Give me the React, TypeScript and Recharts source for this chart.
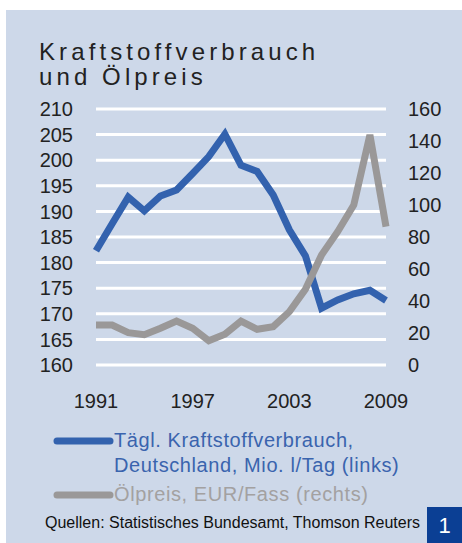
import React from 'react'
import { CartesianGrid, Line, LineChart, XAxis, YAxis } from 'recharts'

const years = [1991, 1992, 1993, 1994, 1995, 1996, 1997, 1998, 1999, 2000, 2001, 2002, 2003, 2004, 2005, 2006, 2007, 2008, 2009]
const fuelUse = [182.3, 187.6, 192.8, 190.1, 193, 194.2, 197.4, 200.7, 205.1, 199, 197.8, 193.2, 186.4, 181.3, 171.1, 172.7, 173.9, 174.6, 172.6]
const oilPrice = [25, 25, 20.2, 18.9, 23, 27.4, 23, 15.2, 19.2, 27.4, 22.3, 24, 33.3, 47.3, 68.8, 83.3, 100, 143.8, 86.5]
const leftTicks = [160, 165, 170, 175, 180, 185, 190, 195, 200, 205, 210]
const rightTicks = [0, 20, 40, 60, 80, 100, 120, 140, 160]
const yearTicks = [1991, 1997, 2003, 2009]
const titleLines = ['Kraftstoffverbrauch', 'und Ölpreis']
const seriesNames = ['Tägl. Kraftstoffverbrauch,\nDeutschland, Mio. l/Tag (links)', 'Ölpreis, EUR/Fass (rechts)']

const BLUE = '#3362ae'
const GREY = '#9a9898'
const BG = '#cdd8e9'

const data = years.map((y, i) => ({ year: y, fuel: fuelUse[i], oil: oilPrice[i] }))

const font = '"Liberation Sans", Arial, sans-serif'

const legendItems = [
  { name: seriesNames[0], color: BLUE, text: '#3a64ae' },
  { name: seriesNames[1], color: GREY, text: '#a3a1a1' },
]

export default function App() {
  const tickStyle = { fill: '#222', fontSize: 20, fontFamily: font }
  return (
    <div style={{ position: 'absolute', left: 0, top: 0, width: 462, height: 543, background: '#fff', overflow: 'hidden' }}>
      <div style={{ position: 'absolute', left: 6, top: 10, width: 456, height: 533, background: BG }} />
      {titleLines.map((t, i) => (
        <div key={t} style={{ position: 'absolute', left: 39, top: 39 + i * 25, height: 25, fontFamily: font, fontSize: 24, lineHeight: '25px', letterSpacing: 4.1, color: '#222', whiteSpace: 'nowrap' }}>
          {t}
        </div>
      ))}
      <div style={{ position: 'absolute', top: 0, left: 0 }}>
        <LineChart width={462} height={543} data={data} margin={{ top: 109, left: 0, right: 0, bottom: 148 }}>
          <CartesianGrid yAxisId="left" vertical={false} stroke="#fff" strokeWidth={3} />
          <XAxis dataKey="year" type="number" domain={[1991, 2009]} ticks={yearTicks} axisLine={false} tickLine={false} tickSize={6} tickMargin={23} height={30} tick={tickStyle} />
          <YAxis yAxisId="left" domain={[160, 210]} ticks={leftTicks} axisLine={false} tickLine={false} tickSize={6} tickMargin={17} width={96} tick={tickStyle} interval={0} />
          <YAxis yAxisId="right" orientation="right" domain={[0, 160]} ticks={rightTicks} axisLine={false} tickLine={false} tickSize={6} tickMargin={16} width={76} tick={{ ...tickStyle, textAnchor: 'start' }} interval={0} />
          <Line yAxisId="left" dataKey="fuel" name={seriesNames[0]} stroke={BLUE} strokeWidth={7} dot={false} isAnimationActive={false} />
          <Line yAxisId="right" dataKey="oil" name={seriesNames[1]} stroke={GREY} strokeWidth={7} dot={false} isAnimationActive={false} />
        </LineChart>
      </div>
      <div style={{ position: 'absolute', left: 51, top: 428, fontFamily: font }}>
        {legendItems.map((p) => (
          <div key={p.name} style={{ display: 'flex', alignItems: 'flex-start', marginBottom: 4 }}>
            <svg width={63} height={26} style={{ flex: 'none' }}>
              <line x1={6} y1={13} x2={59} y2={13} stroke={p.color} strokeWidth={7} strokeLinecap="round" />
            </svg>
            <span style={{ color: p.text, fontSize: 20, letterSpacing: 0.6, lineHeight: '25px', whiteSpace: 'pre-line' }}>
              {p.name}
            </span>
          </div>
        ))}
      </div>
      <div style={{ position: 'absolute', left: 45, top: 514, fontFamily: font, fontSize: 16, color: '#111' }}>
        Quellen: Statistisches Bundesamt, Thomson Reuters
      </div>
      <div style={{ position: 'absolute', left: 427, top: 507, width: 35, height: 36, background: '#0b3f94', color: '#fff', fontFamily: font, fontSize: 22, lineHeight: '38px', textAlign: 'center' }}>
        1
      </div>
    </div>
  )
}
